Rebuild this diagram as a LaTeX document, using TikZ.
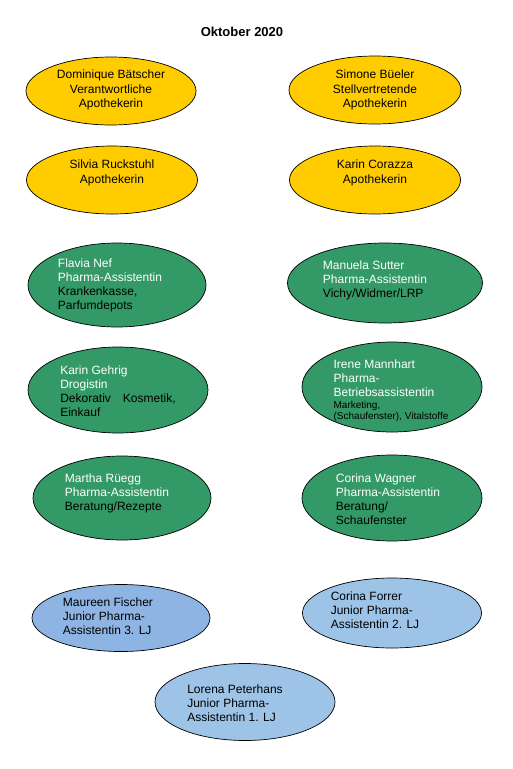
\documentclass[tikz,border=0pt]{standalone}
\usepackage{fontspec}
\setmainfont{Liberation Sans}
\usetikzlibrary{shapes.geometric}
\definecolor{yelfill}{HTML}{FFCC00}
\definecolor{grnfill}{HTML}{339966}
\definecolor{bluedark}{HTML}{8DB4E2}
\definecolor{bluelight}{HTML}{9DC3E6}
\begin{document}
\begin{tikzpicture}[x=1pt,y=-1pt,
  ell/.style 2 args={ellipse, draw=black, line width=0.7pt, inner sep=0pt, minimum width=#1pt, minimum height=#2pt},
  yel/.style={fill=yelfill},
  grn/.style={fill=grnfill},
  bdark/.style={fill=bluedark},
  blight/.style={fill=bluelight},
  ctxt/.style={inner sep=0pt, align=center, font=\fontsize{12}{14.5}\selectfont},
  ltxt/.style={inner sep=0pt, align=left, font=\fontsize{12}{14}\selectfont},
  title/.style={inner sep=0pt, font=\fontsize{13}{15}\selectfont\bfseries}]
\useasboundingbox (0,0) rectangle (512,769);
\fill[white] (0,0) rectangle (512,769);

\node[title] (ttl) at (242,32) {Oktober 2020};

% yellow
\node[ell={170}{68}, yel] (e1) at (111,91) {};
\node[ctxt] (t1) at (111,90) {Dominique Bätscher\\Verantwortliche\\Apothekerin};
\node[ell={172}{68}, yel] (e2) at (375,90) {};
\node[ctxt] (t2) at (375,90) {Simone Büeler\\Stellvertretende\\Apothekerin};
\node[ell={171}{68}, yel] (e3) at (112,180) {};
\node[ctxt] (t3) at (112,173) {Silvia Ruckstuhl\\Apothekerin};
\node[ell={171}{68}, yel] (e4) at (375,180) {};
\node[ctxt] (t4) at (375,173) {Karin Corazza\\Apothekerin};

% green
\node[ell={178}{84}, grn] (e5) at (117,285) {};
\node[ltxt] (t5) at (110,285) {\textcolor{white}{Flavia Nef}\\\textcolor{white}{Pharma-Assistentin}\\Krankenkasse,\\Parfumdepots};
\node[ell={195}{80}, grn] (e6) at (385,283) {};
\node[ltxt] (t6) at (375,280) {\textcolor{white}{Manuela Sutter}\\\textcolor{white}{Pharma-Assistentin}\\Vichy/Widmer/LRP};
\node[ell={180}{86}, grn] (e7) at (118,390) {};
\node[ltxt] (t7) at (118,391) {\textcolor{white}{Karin Gehrig}\\\textcolor{white}{Drogistin}\\Dekorativ\hspace{12pt}Kosmetik,\\Einkauf};
\node[ell={180}{90}, grn] (e8) at (392,387) {};
\node[ltxt] (t8) at (391,391) {\textcolor{white}{Irene Mannhart}\\\textcolor{white}{Pharma-}\\\textcolor{white}{Betriebsassistentin}\\[-2pt]{\fontsize{10}{11}\selectfont Marketing,}\\[-3pt]{\fontsize{10}{11}\selectfont (Schaufenster), Vitalstoffe}};
\node[ell={178}{84}, grn] (e9) at (122,498) {};
\node[ltxt] (t9) at (117,493) {\textcolor{white}{Martha Rüegg}\\\textcolor{white}{Pharma-Assistentin}\\Beratung/Rezepte};
\node[ell={180}{86}, grn] (e10) at (392,498) {};
\node[ltxt] (t10) at (388,499) {\textcolor{white}{Corina Wagner}\\\textcolor{white}{Pharma-Assistentin}\\Beratung/\\Schaufenster};

% blue
\node[ell={178}{67}, bdark] (e11) at (121,618) {};
\node[ltxt] (t11) at (108,616) {Maureen Fischer\\Junior Pharma-\\Assistentin 3. LJ};
\node[ell={179}{70}, blight] (e12) at (392,613) {};
\node[ltxt] (t12) at (375,610) {Corina Forrer\\Junior Pharma-\\Assistentin 2. LJ};
\node[ell={180}{77}, blight] (e13) at (245,702) {};
\node[ltxt] (t13) at (235,703) {Lorena Peterhans\\Junior Pharma-\\Assistentin 1. LJ};
\end{tikzpicture}
\end{document}
